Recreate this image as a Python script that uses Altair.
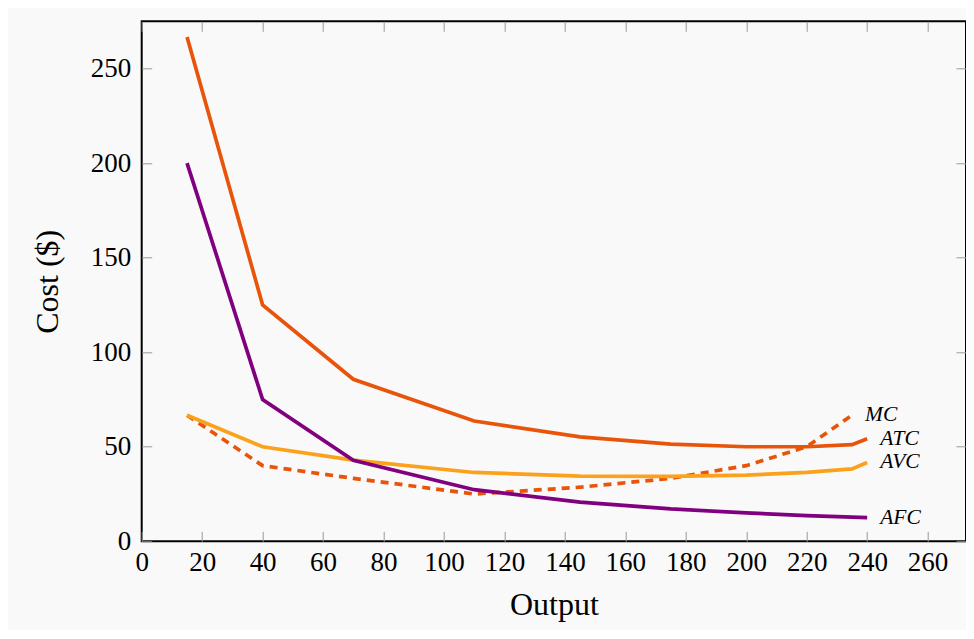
import altair as alt
import pandas as pd

# Data
output = [15, 40, 70, 110, 145, 175, 200, 220, 235, 240]
afc = [200, 75, 42.9, 27.3, 20.7, 17.1, 15, 13.6, 12.8, 12.5]
avc = [66.7, 50, 42.9, 36.4, 34.5, 34.3, 35, 36.4, 38.3, 41.7]
atc = [266.7, 125, 85.7, 63.6, 55.2, 51.4, 50, 50, 51.1, 54.2]
mc_output = [15, 40, 70, 110, 145, 175, 200, 220, 235]
mc = [66.7, 40, 33.3, 25, 28.6, 33.3, 40, 50, 66.7]

x_ticks = [0, 20, 40, 60, 80, 100, 120, 140, 160, 180, 200, 220, 240, 260]
y_ticks = [0, 50, 100, 150, 200, 250]

label_names = ["MC", "ATC", "AVC", "AFC"]
label_x = [235, 240, 240, 240]
label_y = [66.7, 54.2, 41.7, 12.5]

C_ORANGE = "#e8550a"
C_YELLOW = "#fca11c"
C_PURPLE = "#800080"
FONT = "Liberation Serif"

df_atc = pd.DataFrame({"Output": output, "Cost": atc})
df_avc = pd.DataFrame({"Output": output, "Cost": avc})
df_afc = pd.DataFrame({"Output": output, "Cost": afc})
df_mc = pd.DataFrame({"Output": mc_output, "Cost": mc})
df_lab = pd.DataFrame({"Output": label_x, "Cost": label_y, "label": label_names})

xscale = alt.Scale(domain=[0, 272.7], nice=False, zero=False)
yscale = alt.Scale(domain=[0, 275], nice=False, zero=False)

main_x_axis = alt.Axis(
    values=x_ticks, ticks=False, domain=False, grid=False, labelFlush=False,
    labelFont=FONT, labelFontSize=27, labelColor="black", labelPadding=8,
    title="Output", titleFont=FONT, titleFontSize=32, titleFontWeight="normal",
    titleColor="black", titleBaseline="alphabetic", titleY=73, orient="bottom",
)
main_y_axis = alt.Axis(
    values=y_ticks, ticks=False, domain=False, grid=False, labelFlush=False,
    labelFont=FONT, labelFontSize=27, labelColor="black", labelPadding=11,
    title="Cost ($)", titleFont=FONT, titleFontSize=32, titleFontWeight="normal",
    titleColor="black", titleBaseline="alphabetic", titleX=-84, titleAngle=270,
    orient="left",
)


def tick_axis(orient, values):
    return alt.Axis(
        orient=orient, values=values, offset=-10, tickSize=10, ticks=True,
        tickColor="#9a9a9a", tickWidth=1, labels=False, domain=False,
        grid=False, title=None,
    )


line_w = 3.7

mc_layer = alt.Chart(df_mc).mark_line(
    color=C_ORANGE, strokeWidth=line_w, strokeDash=[8, 6], strokeCap="butt"
).encode(
    x=alt.X("Output:Q", scale=xscale, axis=main_x_axis),
    y=alt.Y("Cost:Q", scale=yscale, axis=main_y_axis),
)

atc_layer = alt.Chart(df_atc).mark_line(
    color=C_ORANGE, strokeWidth=line_w
).encode(
    x=alt.X("Output:Q", scale=xscale, axis=tick_axis("bottom", x_ticks)),
    y=alt.Y("Cost:Q", scale=yscale, axis=tick_axis("left", y_ticks)),
)

avc_layer = alt.Chart(df_avc).mark_line(
    color=C_YELLOW, strokeWidth=line_w
).encode(
    x=alt.X("Output:Q", scale=xscale, axis=tick_axis("top", x_ticks)),
    y=alt.Y("Cost:Q", scale=yscale, axis=tick_axis("right", y_ticks)),
)

afc_layer = alt.Chart(df_afc).mark_line(
    color=C_PURPLE, strokeWidth=line_w
).encode(
    x=alt.X("Output:Q", scale=xscale, axis=None),
    y=alt.Y("Cost:Q", scale=yscale, axis=None),
)

text_layer = alt.Chart(df_lab).mark_text(
    align="left", baseline="middle", dx=13, font=FONT, fontSize=21.5,
    fontStyle="italic", color="black"
).encode(
    x=alt.X("Output:Q", scale=xscale, axis=None),
    y=alt.Y("Cost:Q", scale=yscale, axis=None),
    text="label:N",
)

chart = alt.layer(
    mc_layer, atc_layer, avc_layer, afc_layer, text_layer
).resolve_axis(
    x="independent", y="independent"
).properties(
    width=824.3,
    height=520,
    autosize=alt.AutoSizeParams(type="none"),
    padding={"left": 133.7, "top": 13.3, "right": 0, "bottom": 89},
    background="#f9f9f9",
).configure_view(
    stroke="black", strokeWidth=2, fill="#f9f9f9"
)

chart.save("out.html", embed_options={"renderer": "svg", "actions": False})
